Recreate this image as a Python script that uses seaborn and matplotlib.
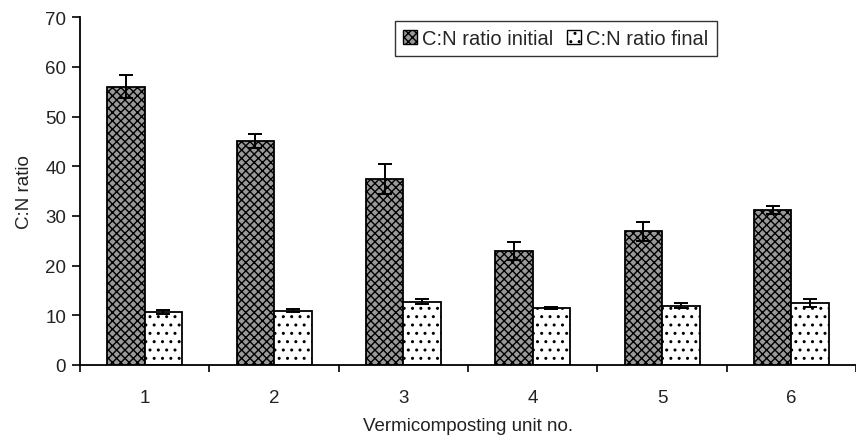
import matplotlib
matplotlib.use("Agg")
import matplotlib.pyplot as plt
import seaborn as sns
import pandas as pd
from matplotlib.patches import Patch

units = ["1", "2", "3", "4", "5", "6"]
cn_initial = [56.0, 45.1, 37.4, 22.9, 26.9, 31.2]
cn_initial_err = [2.3, 1.5, 3.0, 1.8, 1.9, 0.9]
cn_final = [10.7, 10.9, 12.7, 11.4, 11.9, 12.4]
cn_final_err = [0.4, 0.3, 0.5, 0.2, 0.5, 0.8]
series = ["C:N ratio initial", "C:N ratio final"]

df = pd.DataFrame({
    "unit": units * 2,
    "value": cn_initial + cn_final,
    "err": cn_initial_err + cn_final_err,
    "series": [series[0]] * len(units) + [series[1]] * len(units),
})

sns.set_theme(style="white")
plt.rcParams["font.family"] = ["Liberation Sans", "DejaVu Sans"]
plt.rcParams["hatch.linewidth"] = 1.0
fs = 13.5

fig = plt.figure(figsize=(8.56, 4.39), dpi=100)
ax = fig.add_axes([0.0935, 0.1663, 0.9065, 0.7920])

sns.barplot(data=df, x="unit", y="value", hue="series", order=units,
            hue_order=series, width=0.58, dodge=True, errorbar=None,
            palette=["#999999", "white"], edgecolor="black", linewidth=1.3,
            legend=False, ax=ax)

# hatches: first series dense cross, second sparse dots
hatches = {0: "xxxx", 1: ".."}
bars = [p for p in ax.patches if p.get_height() > 0]
n = len(units)
for i, p in enumerate(bars):
    p.set_hatch(hatches[i // n])

# error bars from the bar geometry
for i, p in enumerate(bars):
    xc = p.get_x() + p.get_width() / 2
    ax.errorbar(xc, p.get_height(), yerr=df["err"].iloc[i], fmt="none",
                ecolor="black", elinewidth=1.4, capsize=4.7, capthick=1.4,
                zorder=5)

ax.set_ylim(0, 70)
ax.set_yticks(range(0, 71, 10))
ax.set_xlim(-0.5, 5.44)
ax.set_xticks([i + 0.5 for i in range(-1, 6)], minor=True)
ax.tick_params(axis="x", which="major", length=0, pad=17, labelsize=fs,
               colors="#222222")
ax.tick_params(axis="x", which="minor", length=5, width=1.2, direction="out",
               color="black", bottom=True)
ax.tick_params(axis="y", length=6, width=1.2, direction="out", left=True,
               pad=4, labelsize=fs, colors="#222222", color="black")

for side in ["top", "right"]:
    ax.spines[side].set_visible(False)
for side in ["left", "bottom"]:
    ax.spines[side].set_color("black")
    ax.spines[side].set_linewidth(1.3)

ax.set_xlabel("Vermicomposting unit no.", fontsize=fs, color="#222222",
              labelpad=8)
ax.set_ylabel("C:N ratio", fontsize=fs, color="#222222", labelpad=9)

handles = [Patch(facecolor="#999999", edgecolor="black", hatch="xxxx"),
           Patch(facecolor="white", edgecolor="black", hatch="..")]
leg = ax.legend(handles, series, ncol=2, loc="upper center",
                bbox_to_anchor=(0.613, 0.99), frameon=True, fancybox=False,
                edgecolor="black", fontsize=14.5, handlelength=0.7,
                handleheight=0.7, handletextpad=0.25, columnspacing=0.7,
                borderpad=0.4, borderaxespad=0)
leg.get_frame().set_linewidth(1.0)

fig.savefig("out.png", dpi=100)
